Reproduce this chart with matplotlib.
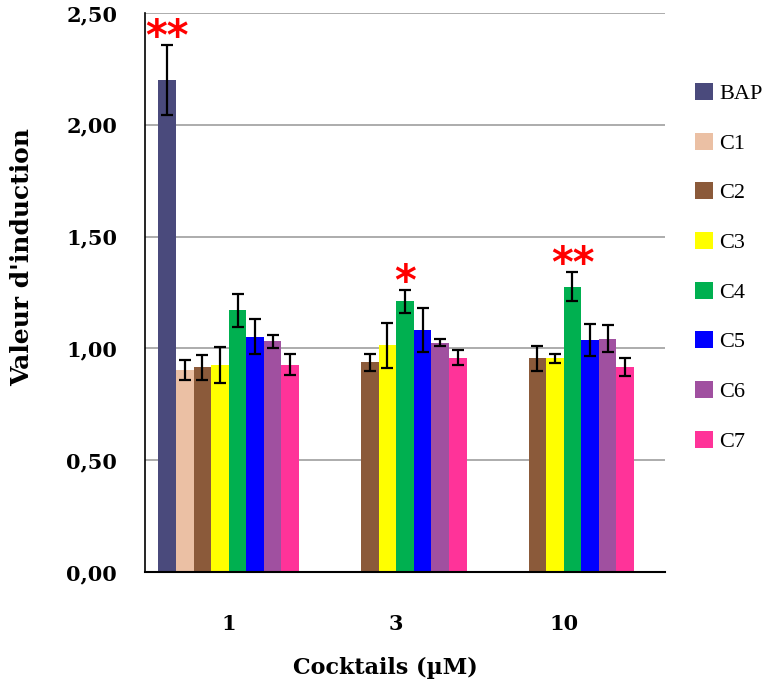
import numpy as np
import matplotlib.pyplot as plt

# concentrations (µM)
groups = ["1", "3", "10"]
series = ["BAP", "C1", "C2", "C3", "C4", "C5", "C6", "C7"]
colors = ["#4a4a7c", "#ebc0a4", "#8b5a3a", "#ffff00", "#00b050", "#0000ff", "#a050a0", "#ff3399"]

# induction values per series, one entry per concentration (nan = not tested)
nan = np.nan
bap = [2.20, nan, nan]
c1 = [0.905, nan, nan]
c2 = [0.915, 0.937, 0.955]
c3 = [0.925, 1.014, 0.955]
c4 = [1.170, 1.210, 1.276]
c5 = [1.053, 1.082, 1.038]
c6 = [1.032, 1.025, 1.044]
c7 = [0.927, 0.959, 0.917]

bap_err = [0.155, nan, nan]
c1_err = [0.045, nan, nan]
c2_err = [0.057, 0.040, 0.056]
c3_err = [0.080, 0.100, 0.022]
c4_err = [0.073, 0.052, 0.065]
c5_err = [0.080, 0.100, 0.073]
c6_err = [0.030, 0.015, 0.060]
c7_err = [0.046, 0.033, 0.040]

values = [bap, c1, c2, c3, c4, c5, c6, c7]
errors = [bap_err, c1_err, c2_err, c3_err, c4_err, c5_err, c6_err, c7_err]

# significance marks: (series index, group index, label)
stars = [(0, 0, "**"), (4, 1, "*"), (4, 2, "**")]

serif = ["DejaVu Serif"]
legend_font = ["Liberation Serif", "DejaVu Serif"]

fig = plt.figure(figsize=(7.68, 6.88), dpi=100)
ax = fig.add_axes([145 / 768, 1 - 572 / 688, 520 / 768, 559 / 688])

x = np.arange(len(groups))
width = 0.105
for i, (name, vals, errs, col) in enumerate(zip(series, values, errors, colors)):
    pos = x + (i - 3.5) * width
    ax.bar(pos, vals, width, color=col, label=name, zorder=2)
    ax.errorbar(pos, vals, yerr=errs, fmt="none", ecolor="black",
                elinewidth=1.6, capsize=4, capthick=1.6, zorder=3)

for si, gi, lab in stars:
    xp = x[gi] + (si - 3.5) * width
    top = values[si][gi] + errors[si][gi]
    ax.annotate(lab, (xp, top), xytext=(0, -10), textcoords="offset points",
                ha="center", va="bottom", color="red", fontsize=30,
                fontweight="bold", family="DejaVu Sans")

ax.set_ylim(0, 2.5)
ax.set_xlim(-0.5, 2.605)
ax.set_yticks(np.arange(0, 2.51, 0.5))
ax.set_yticklabels([f"{v:.2f}".replace(".", ",") for v in np.arange(0, 2.51, 0.5)],
                   family=serif, fontweight="bold", fontsize=15)
ax.set_xticks(x)
ax.set_xticklabels(groups, family=serif, fontweight="bold", fontsize=15)
ax.tick_params(axis="y", length=0, pad=20)
ax.tick_params(axis="x", length=0, pad=30)

ax.yaxis.grid(True, color="#a6a6a6", linewidth=1.3, zorder=0)
ax.set_axisbelow(True)
for side in ["top", "right"]:
    ax.spines[side].set_visible(False)
ax.spines["left"].set_linewidth(1.2)
ax.spines["bottom"].set_linewidth(1.5)

ax.set_ylabel("Valeur d'induction", family=serif, fontweight="bold", fontsize=18)
ax.yaxis.set_label_coords(-0.213, 0.563)
ax.set_xlabel("Cocktails (µM)", family=serif, fontweight="bold", fontsize=16)
ax.xaxis.set_label_coords(0.463, -0.152)

fig.legend(loc="upper left", bbox_to_anchor=(686 / 768, 1 - 74 / 688), frameon=False,
           prop={"family": legend_font, "size": 16}, handlelength=0.8, handleheight=0.8,
           handletextpad=0.3, labelspacing=1.28, borderaxespad=0)

fig.savefig("out.png", dpi=100)
